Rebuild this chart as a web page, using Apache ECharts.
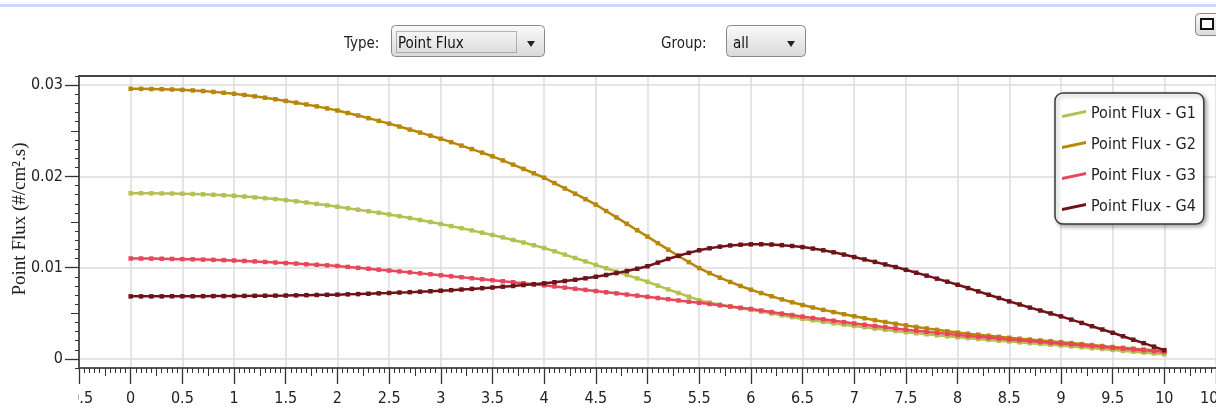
<!DOCTYPE html>
<html><head><meta charset="utf-8">
<script src="https://cdn.jsdelivr.net/npm/echarts@6/dist/echarts.min.js"></script>
<style>html,body{margin:0;padding:0;background:#fff;}#c{width:1216px;height:411px;}</style>
</head><body><div id="c"></div>
<script>
// ---- data ----
const xs = [0,0.1,0.2,0.3,0.4,0.5,0.6,0.7,0.8,0.9,
  1,1.1,1.2,1.3,1.4,1.5,1.6,1.7,1.8,1.9,
  2,2.1,2.2,2.3,2.4,2.5,2.6,2.7,2.8,2.9,
  3,3.1,3.2,3.3,3.4,3.5,3.6,3.7,3.8,3.9,
  4,4.1,4.2,4.3,4.4,4.5,4.6,4.7,4.8,4.9,
  5,5.1,5.2,5.3,5.4,5.5,5.6,5.7,5.8,5.9,
  6,6.1,6.2,6.3,6.4,6.5,6.6,6.7,6.8,6.9,
  7,7.1,7.2,7.3,7.4,7.5,7.6,7.7,7.8,7.9,
  8,8.1,8.2,8.3,8.4,8.5,8.6,8.7,8.8,8.9,
  9,9.1,9.2,9.3,9.4,9.5,9.6,9.7,9.8,9.9,
  10];
const g1 = [0.01815,0.01815,0.01814,0.01813,0.01812,0.01810,0.01807,0.01803,0.01798,0.01793,
  0.01787,0.01779,0.01770,0.01761,0.01751,0.01740,0.01727,0.01713,0.01698,0.01683,
  0.01667,0.01651,0.01635,0.01618,0.01601,0.01583,0.01563,0.01543,0.01522,0.01500,
  0.01478,0.01455,0.01432,0.01408,0.01383,0.01358,0.01331,0.01303,0.01275,0.01245,
  0.01215,0.01180,0.01143,0.01106,0.01068,0.01030,0.00993,0.00956,0.00919,0.00882,
  0.00845,0.00803,0.00762,0.00722,0.00682,0.00643,0.00617,0.00594,0.00573,0.00555,
  0.00538,0.00518,0.00497,0.00477,0.00457,0.00438,0.00422,0.00406,0.00390,0.00375,
  0.00360,0.00346,0.00332,0.00319,0.00305,0.00292,0.00280,0.00269,0.00258,0.00247,
  0.00236,0.00227,0.00218,0.00208,0.00199,0.00190,0.00181,0.00172,0.00164,0.00155,
  0.00146,0.00136,0.00127,0.00117,0.00108,0.00098,0.00088,0.00079,0.00069,0.00060,
  0.00050];
const g2 = [0.02960,0.02959,0.02957,0.02955,0.02952,0.02948,0.02942,0.02935,0.02926,0.02916,
  0.02905,0.02892,0.02877,0.02862,0.02845,0.02827,0.02808,0.02788,0.02767,0.02745,
  0.02722,0.02695,0.02667,0.02638,0.02608,0.02578,0.02546,0.02513,0.02480,0.02446,
  0.02412,0.02375,0.02337,0.02299,0.02260,0.02220,0.02175,0.02129,0.02082,0.02034,
  0.01985,0.01927,0.01868,0.01810,0.01750,0.01690,0.01620,0.01550,0.01480,0.01410,
  0.01340,0.01268,0.01197,0.01127,0.01060,0.00995,0.00940,0.00890,0.00843,0.00799,
  0.00758,0.00721,0.00686,0.00652,0.00620,0.00590,0.00563,0.00537,0.00513,0.00489,
  0.00467,0.00445,0.00424,0.00404,0.00385,0.00367,0.00350,0.00334,0.00318,0.00302,
  0.00288,0.00276,0.00265,0.00253,0.00242,0.00231,0.00221,0.00212,0.00202,0.00193,
  0.00183,0.00173,0.00162,0.00151,0.00141,0.00130,0.00121,0.00112,0.00103,0.00094,
  0.00085];
const g3 = [0.01100,0.01100,0.01099,0.01097,0.01095,0.01093,0.01091,0.01088,0.01085,0.01082,
  0.01078,0.01073,0.01068,0.01062,0.01056,0.01050,0.01044,0.01037,0.01031,0.01025,
  0.01018,0.01008,0.00998,0.00988,0.00978,0.00968,0.00958,0.00948,0.00937,0.00927,
  0.00916,0.00905,0.00895,0.00884,0.00873,0.00862,0.00851,0.00840,0.00829,0.00818,
  0.00806,0.00794,0.00781,0.00768,0.00756,0.00743,0.00730,0.00718,0.00705,0.00693,
  0.00680,0.00667,0.00654,0.00640,0.00627,0.00614,0.00601,0.00587,0.00574,0.00560,
  0.00547,0.00530,0.00513,0.00496,0.00480,0.00463,0.00448,0.00433,0.00418,0.00403,
  0.00388,0.00374,0.00360,0.00347,0.00333,0.00320,0.00308,0.00297,0.00285,0.00274,
  0.00262,0.00252,0.00242,0.00233,0.00223,0.00213,0.00204,0.00195,0.00186,0.00177,
  0.00168,0.00159,0.00150,0.00140,0.00131,0.00122,0.00113,0.00104,0.00094,0.00085,
  0.00076];
const g4 = [0.00685,0.00685,0.00685,0.00685,0.00686,0.00686,0.00686,0.00687,0.00688,0.00688,
  0.00689,0.00690,0.00691,0.00692,0.00693,0.00694,0.00696,0.00698,0.00700,0.00702,
  0.00704,0.00707,0.00710,0.00714,0.00718,0.00722,0.00727,0.00731,0.00736,0.00741,
  0.00747,0.00753,0.00760,0.00767,0.00775,0.00782,0.00791,0.00799,0.00809,0.00818,
  0.00828,0.00840,0.00853,0.00867,0.00883,0.00900,0.00919,0.00940,0.00963,0.00988,
  0.01015,0.01055,0.01095,0.01130,0.01162,0.01190,0.01212,0.01230,0.01243,0.01251,
  0.01255,0.01256,0.01253,0.01246,0.01237,0.01225,0.01209,0.01190,0.01168,0.01143,
  0.01116,0.01090,0.01063,0.01035,0.01006,0.00976,0.00944,0.00912,0.00879,0.00846,
  0.00812,0.00776,0.00740,0.00703,0.00667,0.00630,0.00596,0.00562,0.00530,0.00498,
  0.00466,0.00430,0.00394,0.00358,0.00322,0.00286,0.00248,0.00210,0.00172,0.00134,
  0.00096];
const seriesNames = ['Point Flux - G1','Point Flux - G2','Point Flux - G3','Point Flux - G4'];
const yLabelValues = [0, 0.01, 0.02, 0.03];
const yMidTickValues = [0.005, 0.015, 0.025];
const yAxisTitle = 'Point Flux (#/cm\u00B2.s)';
const typeLabel = 'Type:', typeValue = 'Point Flux', groupLabel = 'Group:', groupValue = 'all';

// ---- styles ----
const colors = ['#b5c052', '#b8860b', '#e8465a', '#6e1419'];
const F = '"DejaVu Sans Condensed","Liberation Sans",sans-serif';
const yMin = -0.001, yMax = 0.031;
const yMinorTicks = [];
for (let k = -1; k <= 31; k++) yMinorTicks.push(+(k * 0.001).toFixed(3));

const chart = echarts.init(document.getElementById('c'), null, {renderer: 'canvas'});
const grad = () => new echarts.graphic.LinearGradient(0, 0, 0, 1, [{offset: 0, color: '#fbfbfb'}, {offset: 1, color: '#d9d9d9'}]);
const lbl = {fontFamily: F, fontSize: 16, color: '#222'};

const baseY = {type: 'value', min: yMin, max: yMax, position: 'left',
  axisLine: {show: false, onZero: false}, axisLabel: {show: false}, splitLine: {show: false}};

chart.setOption({
  animation: false,
  grid: {left: 79, top: 76, width: 1137, height: 292, outerBoundsMode: 'none'},
  xAxis: [
    {type: 'value', min: -0.5, max: 10.5, interval: 0.5, position: 'bottom',
     axisLine: {show: true, onZero: false, lineStyle: {color: '#555', width: 2}},
     axisTick: {show: true, length: 16, lineStyle: {color: '#333', width: 1.3}},
     minorTick: {show: true, splitNumber: 10, length: 5, lineStyle: {color: '#333', width: 1}},
     axisLabel: Object.assign({margin: 23}, lbl),
     splitLine: {show: true, lineStyle: {color: '#dcdcdc', width: 1.5}}},
    {type: 'value', min: -0.5, max: 10.5, interval: 0.25, position: 'bottom',
     axisLine: {show: false, onZero: false},
     axisTick: {show: true, length: 8, lineStyle: {color: '#333', width: 1}},
     axisLabel: {show: false}, splitLine: {show: false}},
    {type: 'value', min: -0.5, max: 10.5, position: 'top',
     axisLine: {show: true, onZero: false, lineStyle: {color: '#444', width: 2}},
     axisTick: {show: false}, axisLabel: {show: false}, splitLine: {show: false}}
  ],
  yAxis: [
    {type: 'value', min: yMin, max: yMax, position: 'left',
     axisLine: {show: true, onZero: false, lineStyle: {color: '#555', width: 2}},
     axisTick: {show: true, length: 14, customValues: yLabelValues, lineStyle: {color: '#333', width: 1.3}},
     axisLabel: Object.assign({margin: 16, customValues: yLabelValues}, lbl),
     splitLine: {show: true, lineStyle: {color: '#dcdcdc', width: 1.5}}},
    Object.assign({}, baseY, {axisTick: {show: true, length: 8, customValues: yMidTickValues, lineStyle: {color: '#333', width: 1}}}),
    Object.assign({}, baseY, {axisTick: {show: true, length: 4, customValues: yMinorTicks, lineStyle: {color: '#333', width: 1}}})
  ],
  legend: {
    orient: 'vertical', left: 1055, top: 93, padding: [11, 8, 7, 7], itemGap: 11,
    itemWidth: 24, itemHeight: 8, icon: 'path://M0,5 L24,0 L24,3 L0,8 Z',
    textStyle: {fontFamily: F, fontSize: 16, color: '#222', lineHeight: 20},
    backgroundColor: '#fff', borderColor: '#3a3a3a', borderWidth: 1.5, borderRadius: 8,
    shadowBlur: 4, shadowColor: 'rgba(0,0,0,0.35)', shadowOffsetX: 2, shadowOffsetY: 2,
    data: seriesNames
  },
  series: [g1, g2, g3, g4].map((vals, i) => ({
    type: 'line', name: seriesNames[i], xAxisIndex: 0, yAxisIndex: 0,
    data: xs.map((x, j) => [x, vals[j]]),
    symbol: 'rect', symbolSize: 4.5, showAllSymbol: true,
    lineStyle: {width: 2.5, color: colors[i]}, itemStyle: {color: colors[i]},
    emphasis: {disabled: true}, z: 3 + i
  })),
  graphic: [
    {type: 'rect', shape: {x: 0, y: 4, width: 1216, height: 3}, style: {fill: '#c9daf8'}},
    {type: 'text', x: 20, y: 219, rotation: Math.PI / 2,
     style: {text: yAxisTitle, font: '19px "Liberation Serif","DejaVu Serif",serif', fill: '#222', textAlign: 'center', textVerticalAlign: 'middle'}},
    {type: 'text', x: 344, y: 44, style: {text: typeLabel, font: '15px ' + F, fill: '#222', textVerticalAlign: 'middle'}},
    {type: 'rect', shape: {x: 391.5, y: 25.5, width: 153, height: 31, r: 4}, style: {fill: grad(), stroke: '#8a8a8a', lineWidth: 1}},
    {type: 'rect', shape: {x: 396.5, y: 31.5, width: 120, height: 21}, style: {fill: 'none', stroke: '#777', lineWidth: 1, lineDash: [1, 1]}},
    {type: 'text', x: 398, y: 44, style: {text: typeValue, font: '15px ' + F, fill: '#111', textVerticalAlign: 'middle'}},
    {type: 'polygon', shape: {points: [[527, 41], [535, 41], [531, 47]]}, style: {fill: '#222'}},
    {type: 'text', x: 661, y: 44, style: {text: groupLabel, font: '15px ' + F, fill: '#222', textVerticalAlign: 'middle'}},
    {type: 'rect', shape: {x: 726.5, y: 25.5, width: 79, height: 31, r: 4}, style: {fill: grad(), stroke: '#8a8a8a', lineWidth: 1}},
    {type: 'text', x: 733, y: 44, style: {text: groupValue, font: '15px ' + F, fill: '#111', textVerticalAlign: 'middle'}},
    {type: 'polygon', shape: {points: [[787, 41], [795, 41], [791, 47]]}, style: {fill: '#222'}},
    {type: 'rect', shape: {x: 1195.5, y: 13.5, width: 26, height: 22, r: 4}, style: {fill: grad(), stroke: '#888', lineWidth: 1}},
    {type: 'rect', shape: {x: 1201, y: 19, width: 12, height: 10}, style: {fill: '#fff', stroke: '#111', lineWidth: 2}},
    {type: 'rect', z: 100, shape: {x: 40, y: 380, width: 38, height: 31}, style: {fill: '#fff'}}
  ]
});
</script></body></html>
